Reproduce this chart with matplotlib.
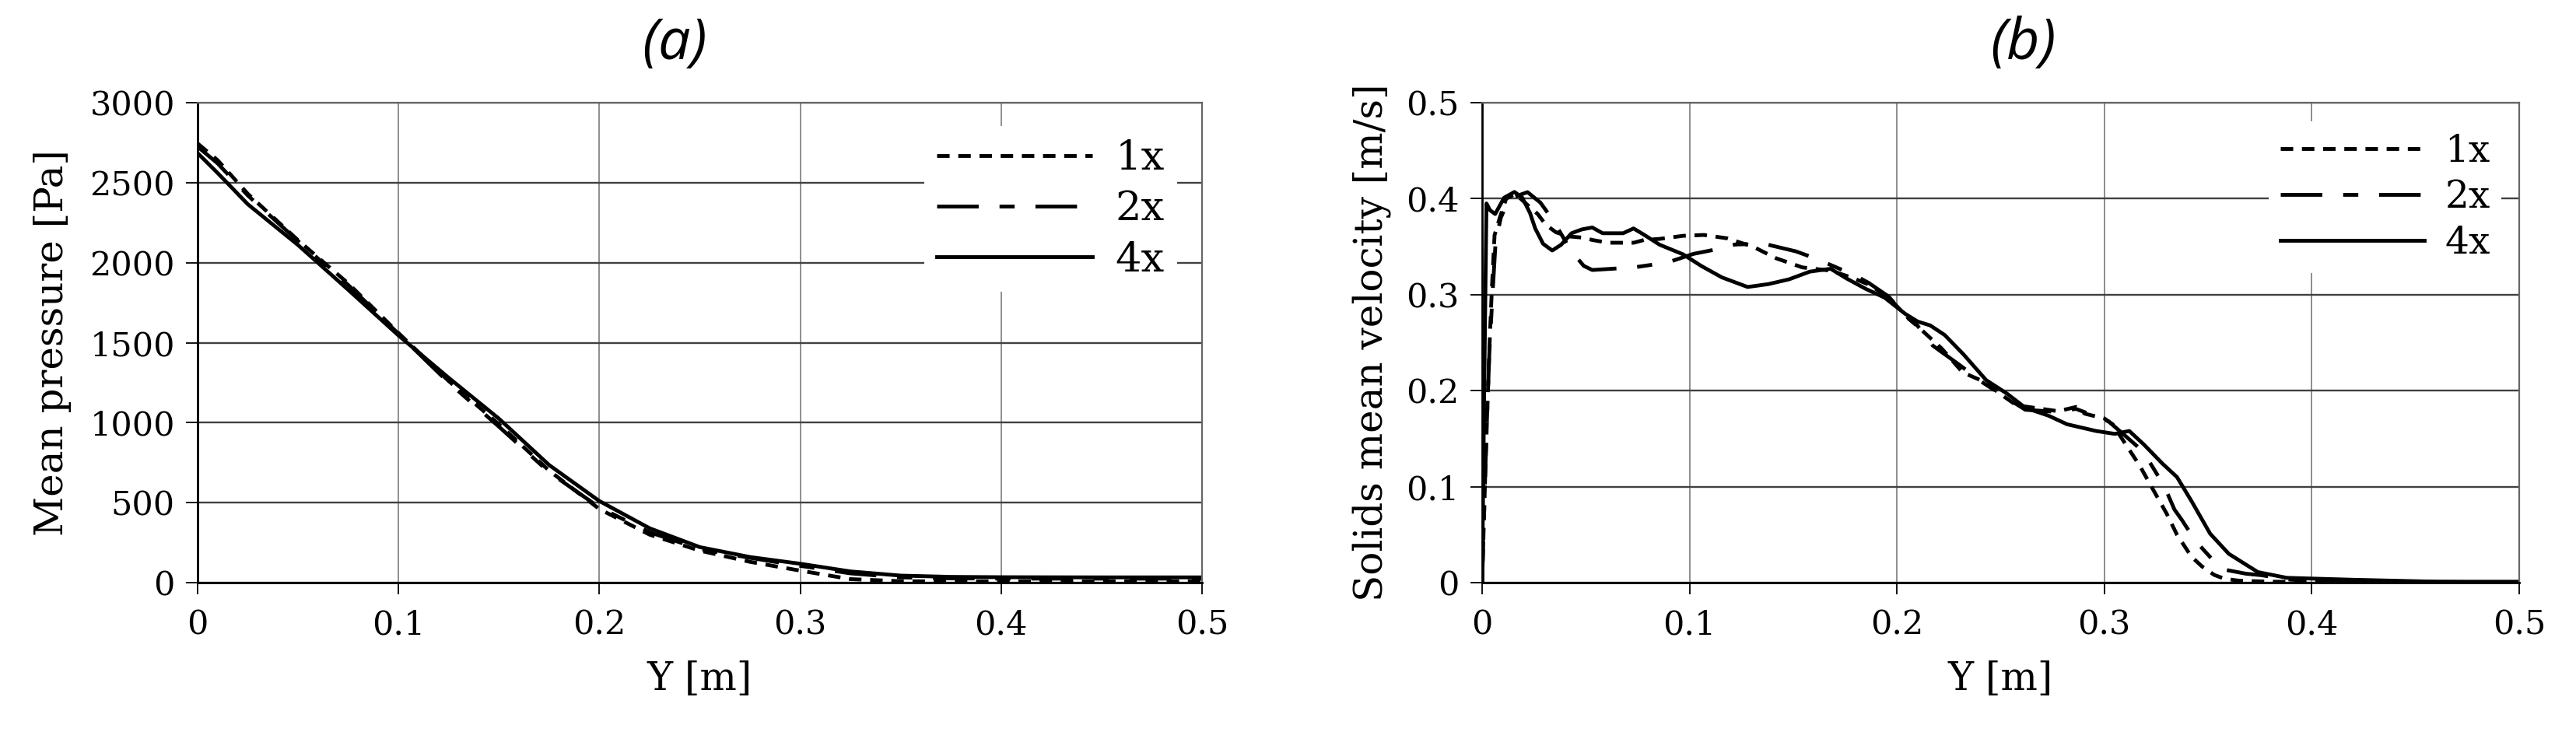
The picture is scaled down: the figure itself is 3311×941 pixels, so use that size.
import matplotlib
matplotlib.use("Agg")
import matplotlib.pyplot as plt
from matplotlib.ticker import FuncFormatter

# ---------------- data: panel (a) mean pressure ----------------
pos_a = [0, 0.01, 0.025, 0.05, 0.075, 0.1, 0.125, 0.15, 0.175, 0.2,
         0.225, 0.25, 0.275, 0.3, 0.325, 0.35, 0.375, 0.4, 0.45, 0.5]
p_1x = [2745, 2640, 2430, 2140, 1870, 1560, 1260, 990, 700, 460,
        300, 200, 130, 75, 22, 9, 8, 8, 8, 8]
p_2x = [2725, 2620, 2420, 2135, 1860, 1555, 1250, 975, 690, 470,
        315, 210, 155, 105, 58, 33, 27, 25, 25, 25]
p_4x = [2685, 2560, 2365, 2110, 1830, 1545, 1280, 1025, 735, 510,
        340, 222, 160, 118, 70, 44, 36, 34, 33, 33]

# ---------------- data: panel (b) solids mean velocity ----------------
pos_b_1x = [0, 0.0016, 0.0035, 0.0047, 0.006, 0.0085, 0.0116, 0.016, 0.0213,
            0.0269, 0.0306, 0.0356, 0.0413, 0.0481, 0.0531, 0.0606, 0.0731,
            0.0781, 0.0856, 0.0969, 0.1069, 0.1181, 0.1306, 0.1419, 0.1544,
            0.168, 0.178, 0.187, 0.196, 0.2058, 0.2115, 0.2216, 0.2317,
            0.2417, 0.2504, 0.2576, 0.2676, 0.2777, 0.2863, 0.2906, 0.300,
            0.304, 0.310, 0.317, 0.324, 0.330, 0.335, 0.342, 0.347, 0.353,
            0.358, 0.365, 0.38, 0.5]
v_1x = [0, 0.12, 0.244, 0.306, 0.362, 0.38, 0.40, 0.405, 0.3946,
        0.3838, 0.373, 0.365, 0.3608, 0.3595, 0.357, 0.3541, 0.3541,
        0.357, 0.3581, 0.3613, 0.3622, 0.3587, 0.350, 0.3378, 0.3284,
        0.325, 0.318, 0.310, 0.297, 0.2748, 0.264, 0.2438, 0.219,
        0.2096, 0.1957, 0.1848, 0.1817, 0.1786, 0.183, 0.176, 0.171,
        0.165, 0.145, 0.122, 0.095, 0.072, 0.050, 0.027, 0.017, 0.008,
        0.004, 0.002, 0.001, 0.0]

pos_b_2x = [0, 0.002, 0.0035, 0.005, 0.0065, 0.009, 0.013, 0.0219, 0.0281,
            0.0344, 0.0413, 0.0444, 0.049, 0.0531, 0.0731, 0.0837, 0.0906,
            0.1019, 0.1119, 0.1219, 0.1356, 0.1513, 0.1606, 0.1694, 0.1799,
            0.1865, 0.196, 0.205, 0.2098, 0.2173, 0.2302, 0.2417, 0.2504,
            0.2619, 0.2763, 0.2863, 0.295, 0.302, 0.309, 0.3187, 0.3288,
            0.3338, 0.3374, 0.3439, 0.3511, 0.3568, 0.3683, 0.3755, 0.39,
            0.45, 0.5]
v_2x = [0, 0.15, 0.24, 0.30, 0.355, 0.38, 0.40, 0.4068, 0.3959,
        0.377, 0.3514, 0.3419, 0.330, 0.3257, 0.3284, 0.3317, 0.3344,
        0.3425, 0.3468, 0.3522, 0.3532, 0.3451, 0.3378, 0.3297, 0.3199,
        0.3121, 0.298, 0.276, 0.268, 0.2469, 0.2267, 0.208, 0.1957,
        0.1801, 0.178, 0.181, 0.174, 0.168, 0.155, 0.1366, 0.1009,
        0.0761, 0.0652, 0.0435, 0.0264, 0.014, 0.0093, 0.0078, 0.003,
        0.001, 0.0]

pos_b_4x = [0, 0.001, 0.0021, 0.0038, 0.0063, 0.0106, 0.0156, 0.0194, 0.0231,
            0.0256, 0.0294, 0.0338, 0.0381, 0.0431, 0.0481, 0.0531, 0.0581,
            0.068, 0.073, 0.078, 0.0856, 0.0969, 0.1056, 0.1156, 0.128,
            0.138, 0.148, 0.158, 0.168, 0.1756, 0.185, 0.194, 0.204, 0.210,
            0.216, 0.223, 0.232, 0.243, 0.253, 0.262, 0.273, 0.282, 0.296,
            0.305, 0.312, 0.319, 0.328, 0.335, 0.342, 0.351, 0.360, 0.374,
            0.388, 0.42, 0.46, 0.5]
v_4x = [0, 0.2, 0.395, 0.388, 0.384, 0.401, 0.407, 0.401, 0.385,
        0.369, 0.353, 0.346, 0.352, 0.364, 0.368, 0.370, 0.364,
        0.364, 0.369, 0.3625, 0.352, 0.342, 0.330, 0.318, 0.308,
        0.311, 0.316, 0.324, 0.327, 0.317, 0.306, 0.297, 0.280, 0.272,
        0.268, 0.258, 0.238, 0.211, 0.197, 0.182, 0.174, 0.165, 0.158,
        0.155, 0.158, 0.144, 0.124, 0.110, 0.085, 0.051, 0.030, 0.011,
        0.005, 0.003, 0.001, 0.001]

series_labels = ["1x", "2x", "4x"]
x_ticks = [0, 0.1, 0.2, 0.3, 0.4, 0.5]
yticks_a = [0, 500, 1000, 1500, 2000, 2500, 3000]
yticks_b = [0, 0.1, 0.2, 0.3, 0.4, 0.5]
panel_titles = ["(a)", "(b)"]
xlabel_txt = "Y [m]"
ylabels = ["Mean pressure [Pa]", "Solids mean velocity [m/s]"]

# ---------------- styling ----------------
W, H = 3312, 941
fig = plt.figure(figsize=(W / 100, H / 100), dpi=100)
serif = "DejaVu Serif"
LW = 3.5
styles = [dict(color="black", lw=LW, linestyle=(0, (3.3, 2.3))),
          dict(color="black", lw=LW, linestyle=(0, (11, 5.5, 4, 5.5))),
          dict(color="black", lw=LW, linestyle="-")]

def px_axes(l, r, t, b):
    return [l / W, 1 - b / H, (r - l) / W, (b - t) / H]

ax_a = fig.add_axes(px_axes(254, 1545, 132, 749))
ax_b = fig.add_axes(px_axes(1905, 3238, 132, 749))

fmt = FuncFormatter(lambda v, p: f"{v:g}")

def style_axes(ax, yticks, ylabel, ylab_x, legend_anchor, legend_fs, lspace):
    ax.set_xlim(0, 0.5)
    ax.set_ylim(yticks[0], yticks[-1])
    ax.set_xticks(x_ticks)
    ax.set_yticks(yticks)
    ax.xaxis.set_major_formatter(fmt)
    ax.yaxis.set_major_formatter(fmt)
    ax.tick_params(axis="both", direction="out", length=11, width=1.3,
                   labelsize=31, color="black")
    ax.tick_params(axis="x", pad=13)
    ax.tick_params(axis="y", pad=10)
    for lab in ax.get_xticklabels() + ax.get_yticklabels():
        lab.set_fontfamily(serif)
    ax.yaxis.grid(True, color="#404040", lw=1.7)
    ax.xaxis.grid(True, color="#7a7a7a", lw=1.2)
    ax.set_axisbelow(True)
    ax.spines["left"].set_color("black")
    ax.spines["bottom"].set_color("black")
    ax.spines["left"].set_linewidth(2.0)
    ax.spines["bottom"].set_linewidth(2.0)
    for s in ("top", "right"):
        ax.spines[s].set_color("#666666")
        ax.spines[s].set_linewidth(1.6)
    ax.set_xlabel(xlabel_txt, fontsize=36, fontfamily=serif)
    ax.xaxis.set_label_coords(0.5, -0.162)
    ax.xaxis.label.set_va("top")
    ax.set_ylabel(ylabel, fontsize=36, fontfamily=serif)
    ax.yaxis.set_label_coords(ylab_x, 0.5)
    leg = ax.legend(loc="upper right", bbox_to_anchor=legend_anchor,
                    frameon=True, facecolor="white", edgecolor="none",
                    framealpha=1.0, fancybox=False,
                    prop={"family": serif, "size": legend_fs},
                    handlelength=3.8, handletextpad=0.55, labelspacing=lspace,
                    borderpad=0.3, borderaxespad=0.0)
    leg.set_zorder(5)
    return leg

for xs, ys, st, lab in zip([pos_a, pos_a, pos_a], [p_1x, p_2x, p_4x],
                           styles, series_labels):
    ax_a.plot(xs, ys, label=lab, **st)
for xs, ys, st, lab in zip([pos_b_1x, pos_b_2x, pos_b_4x], [v_1x, v_2x, v_4x],
                           styles, series_labels):
    ax_b.plot(xs, ys, label=lab, **st)

style_axes(ax_a, yticks_a, ylabels[0], (92 - 254) / 1291, (0.975, 0.951), 38, 0.27)
style_axes(ax_b, yticks_b, ylabels[1], (1788 - 1905) / 1333, (0.983, 0.961), 35, 0.25)

title_font = dict(family="Open Sans", style="italic", size=53)
fig.text(867 / W, 1 - 57 / H, panel_titles[0], ha="center", va="center",
         fontdict=title_font)
fig.text(2600 / W, 1 - 57 / H, panel_titles[1], ha="center", va="center",
         fontdict=title_font)

fig.savefig("out.png", dpi=100, facecolor="white")
